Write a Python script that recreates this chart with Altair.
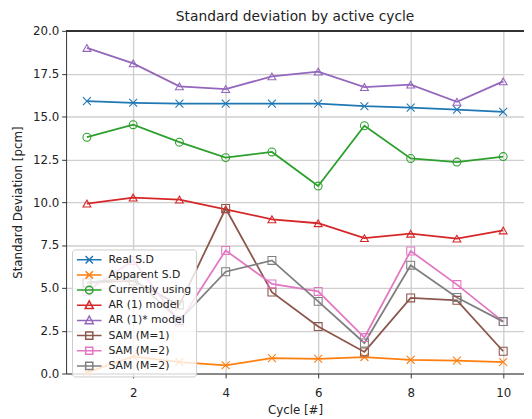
import altair as alt
import pandas as pd

cycles = [1, 2, 3, 4, 5, 6, 7, 8, 9, 10]
series_names = ["Real S.D", "Apparent S.D", "Currently using", "AR (1) model",
                "AR (1)* model", "SAM (M=1)", "SAM (M=2)", "SAM (M=2) "]
real_sd = [15.9, 15.8, 15.75, 15.75, 15.75, 15.75, 15.6, 15.52, 15.4, 15.27]
apparent_sd = [0.05, 1.0, 0.67, 0.48, 0.9, 0.86, 0.96, 0.8, 0.75, 0.67]
currently_using = [13.79, 14.52, 13.5, 12.6, 12.93, 10.94, 14.46, 12.55, 12.34, 12.66]
ar1 = [9.92, 10.27, 10.15, 9.58, 9.0, 8.77, 7.9, 8.16, 7.87, 8.35]
ar1_star = [19.0, 18.1, 16.76, 16.6, 17.34, 17.62, 16.72, 16.86, 15.86, 17.05]
sam_m1 = [5.3, 5.4, 4.0, 9.63, 4.75, 2.74, 1.26, 4.41, 4.27, 1.3]
sam_m2 = [4.8, 6.6, 3.0, 7.18, 5.23, 4.79, 2.1, 7.15, 5.19, 3.03]
sam_m2b = [5.3, 5.6, 3.1, 5.94, 6.6, 4.21, 1.78, 6.32, 4.44, 3.03]

colors = ["#1f77b4", "#ff7f0e", "#2ca02c", "#d62728", "#9467bd", "#8c564b", "#e377c2", "#7f7f7f"]

marker_kind = ["x", "x", "circle", "triangle", "triangle", "square", "square", "square"]
marker_paths = {
    "x": "M-1,-1L1,1M-1,1L1,-1",
    "circle": "circle",
    "triangle": "triangle-up",
    "square": "square",
}

LX = "M-1,0H1M-0.3,-0.3L0.3,0.3M-0.3,0.3L0.3,-0.3"
LC = "M-1,0H1M-0.31,0A0.31,0.31 0 1,0 0.31,0A0.31,0.31 0 1,0 -0.31,0"
LT = "M-1,0H1M0,-0.36L0.33,0.27L-0.33,0.27Z"
LS = "M-1,0H1M-0.29,-0.29H0.29V0.29H-0.29Z"
shapes_legend = [LX, LX, LC, LT, LT, LS, LS, LS]

all_values = [real_sd, apparent_sd, currently_using, ar1, ar1_star, sam_m1, sam_m2, sam_m2b]
rows = []
for name, kind, vals in zip(series_names, marker_kind, all_values):
    for c, v in zip(cycles, vals):
        rows.append({"cycle": c, "sd": v, "series": name, "kind": kind})
df = pd.DataFrame(rows)

W, H = 465, 348

xenc = alt.X("cycle:Q", scale=alt.Scale(domain=[0.55, 10.45], nice=False, zero=False),
             axis=alt.Axis(values=[2, 4, 6, 8, 10], title="Cycle [#]", format="d",
                           labelPadding=10, titlePadding=6))
yenc = alt.Y("sd:Q", scale=alt.Scale(domain=[0, 20], nice=False),
             axis=alt.Axis(values=[0, 2.5, 5, 7.5, 10, 12.5, 15, 17.5, 20], format=".1f",
                           title="Standard Deviation [pcm]", titlePadding=8))
color_scale = alt.Scale(domain=series_names, range=colors)
color_nolegend = alt.Color("series:N", scale=color_scale, legend=None)

legend_props = dict(title=None, orient="none", legendX=6, legendY=222,
                    symbolSize=625, symbolStrokeWidth=1.5, clipHeight=13,
                    labelFontSize=11, labelFont="DejaVu Sans", labelColor="#222",
                    rowPadding=2.4, padding=4, symbolOffset=0, labelOffset=6,
                    fillColor="rgba(255,255,255,0.8)", strokeColor="#cccccc",
                    cornerRadius=3, symbolFillColor="transparent", symbolOpacity=1)

base = alt.Chart(df)

lines = base.mark_line(strokeWidth=1.8).encode(
    x=xenc, y=yenc, color=color_nolegend, detail="series:N", order="cycle:Q"
)

point_layers = []
for kind in ["x", "circle", "triangle", "square"]:
    point_layers.append(
        base.transform_filter(alt.datum.kind == kind)
        .mark_point(filled=False, strokeWidth=1.1, size=64, opacity=1, shape=marker_paths[kind])
        .encode(x=xenc, y=yenc, color=color_nolegend)
    )

legend_layer = base.mark_point(filled=False, opacity=0, size=1).encode(
    x=xenc, y=yenc,
    color=alt.Color("series:N", scale=color_scale, legend=alt.Legend(**legend_props)),
    shape=alt.Shape("series:N", scale=alt.Scale(domain=series_names, range=shapes_legend),
                    legend=alt.Legend(**legend_props)),
)

top_spine = alt.Chart(df).mark_rule(color="#333333", strokeWidth=1).encode(
    x=alt.value(0), x2=alt.value(W), y=alt.value(0)
)

chart = alt.layer(lines, *point_layers, legend_layer, top_spine).resolve_scale(
    color="independent", shape="independent"
).properties(
    width=W, height=H,
    title=alt.Title("Standard deviation by active cycle", fontSize=14, font="DejaVu Sans",
                    fontWeight="normal", color="#222", anchor="middle", frame="group", offset=1),
    padding={"left": 59, "top": 20, "right": 0, "bottom": 42},
    autosize=alt.AutoSizeParams(type="none"),
).configure_view(stroke=None).configure_axis(
    labelFont="DejaVu Sans", labelFontSize=12, labelColor="#222",
    titleFont="DejaVu Sans", titleFontSize=12, titleFontWeight="normal", titleColor="#222",
    domainColor="#333333", domainWidth=1, tickColor="#333333", tickSize=4.5, tickWidth=1,
    labelPadding=3, gridColor="#cfcfcf", gridWidth=1.4, titlePadding=4,
)

chart.save("out.html", embed_options={"renderer": "svg", "actions": False})
